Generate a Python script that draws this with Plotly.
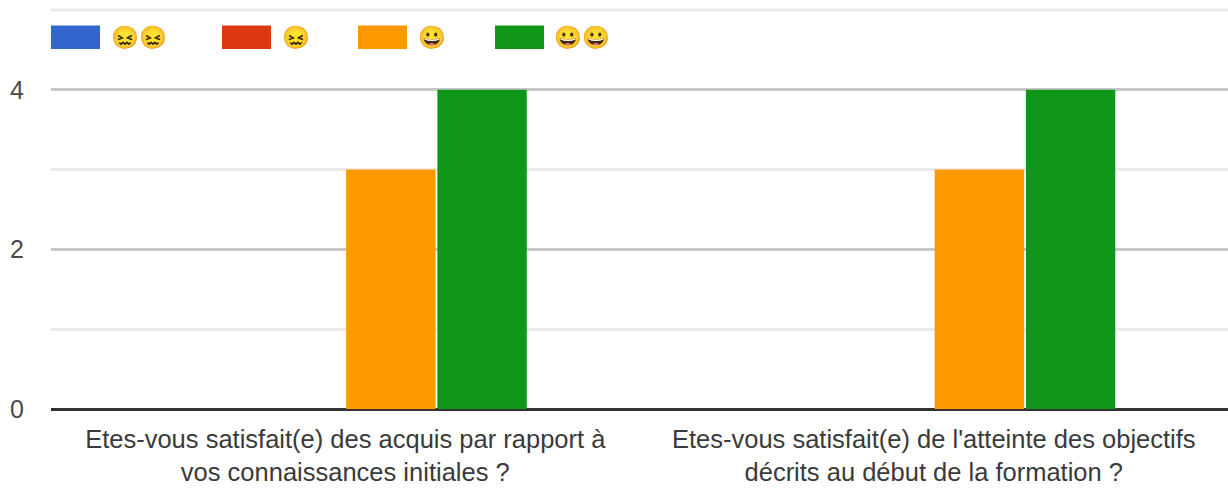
import plotly.graph_objects as go

categories = [
    "Etes-vous satisfait(e) des acquis par rapport à<br>vos connaissances initiales ?",
    "Etes-vous satisfait(e) de l'atteinte des objectifs<br>décrits au début de la formation ?",
]
series_names = ["😖😖", "😖", "😀", "😀😀"]
series_values = [[0, 0], [0, 0], [3, 3], [4, 4]]
series_colors = ["#3366cc", "#dc3912", "#ff9900", "#109618"]
y_major = [0, 2, 4]
y_minor = [1, 3, 5]

W, H = 1228, 488
L, R, T, B = 51, 0, 9.5, 78.5
EMOJI_FONT = "Noto Color Emoji, Apple Color Emoji, DejaVu Sans"

fig = go.Figure()
for name, vals, col in zip(series_names, series_values, series_colors):
    fig.add_bar(x=categories, y=vals, name=name, marker=dict(color=col, line=dict(width=0)), showlegend=False)

pw = W - L - R
ph = H - T - B
swatch_left = [51, 222, 358, 495]
label_left = [109, 280, 416, 552]
shapes = [dict(type="line", xref="paper", yref="paper", layer="below",
               x0=0, x1=1, y0=1, y1=1, line=dict(color="#ebebeb", width=3))]
annotations = []
for s, lx, name, col in zip(swatch_left, label_left, series_names, series_colors):
    shapes.append(dict(type="rect", xref="paper", yref="paper", layer="above",
                       x0=(s - L) / pw, x1=(s + 49 - L) / pw,
                       y0=(H - B - 48.5) / ph, y1=(H - B - 25) / ph,
                       fillcolor=col, line_width=0))
    annotations.append(dict(xref="paper", yref="paper", x=(lx - L) / pw, y=(H - B - 37) / ph,
                            xanchor="left", yanchor="middle", text=name, showarrow=False,
                            font=dict(family=EMOJI_FONT, size=22.4, color="#f0a010")))

fig.update_layout(
    width=W, height=H, margin=dict(l=L, r=R, t=T, b=B, pad=0),
    paper_bgcolor="white", plot_bgcolor="white",
    barmode="group", bargap=0.38, bargroupgap=0.02,
    showlegend=False, shapes=shapes, annotations=annotations,
    font=dict(family="Liberation Sans, Arial, sans-serif", color="#444444"),
    xaxis=dict(showgrid=False, tickfont=dict(size=25.5, color="#3a3a3a"), ticks="", automargin=False,
               ticklabelstandoff=12),
    yaxis=dict(range=[0, 5], tickvals=y_major, ticktext=[str(v) for v in y_major],
               tickfont=dict(size=25, color="#4a4a4a"), ticks="", automargin=False,
               showgrid=True, gridcolor="#c8c8c8", gridwidth=3,
               zeroline=True, zerolinecolor="#333333", zerolinewidth=3,
               ticklabelstandoff=26,
               minor=dict(tickvals=y_minor, showgrid=True, gridcolor="#ebebeb", gridwidth=3, ticks="")),
)
fig.write_html("out.html", config=dict(displayModeBar=False),
               post_script="document.body.style.margin='0';document.documentElement.style.overflow='hidden';")
